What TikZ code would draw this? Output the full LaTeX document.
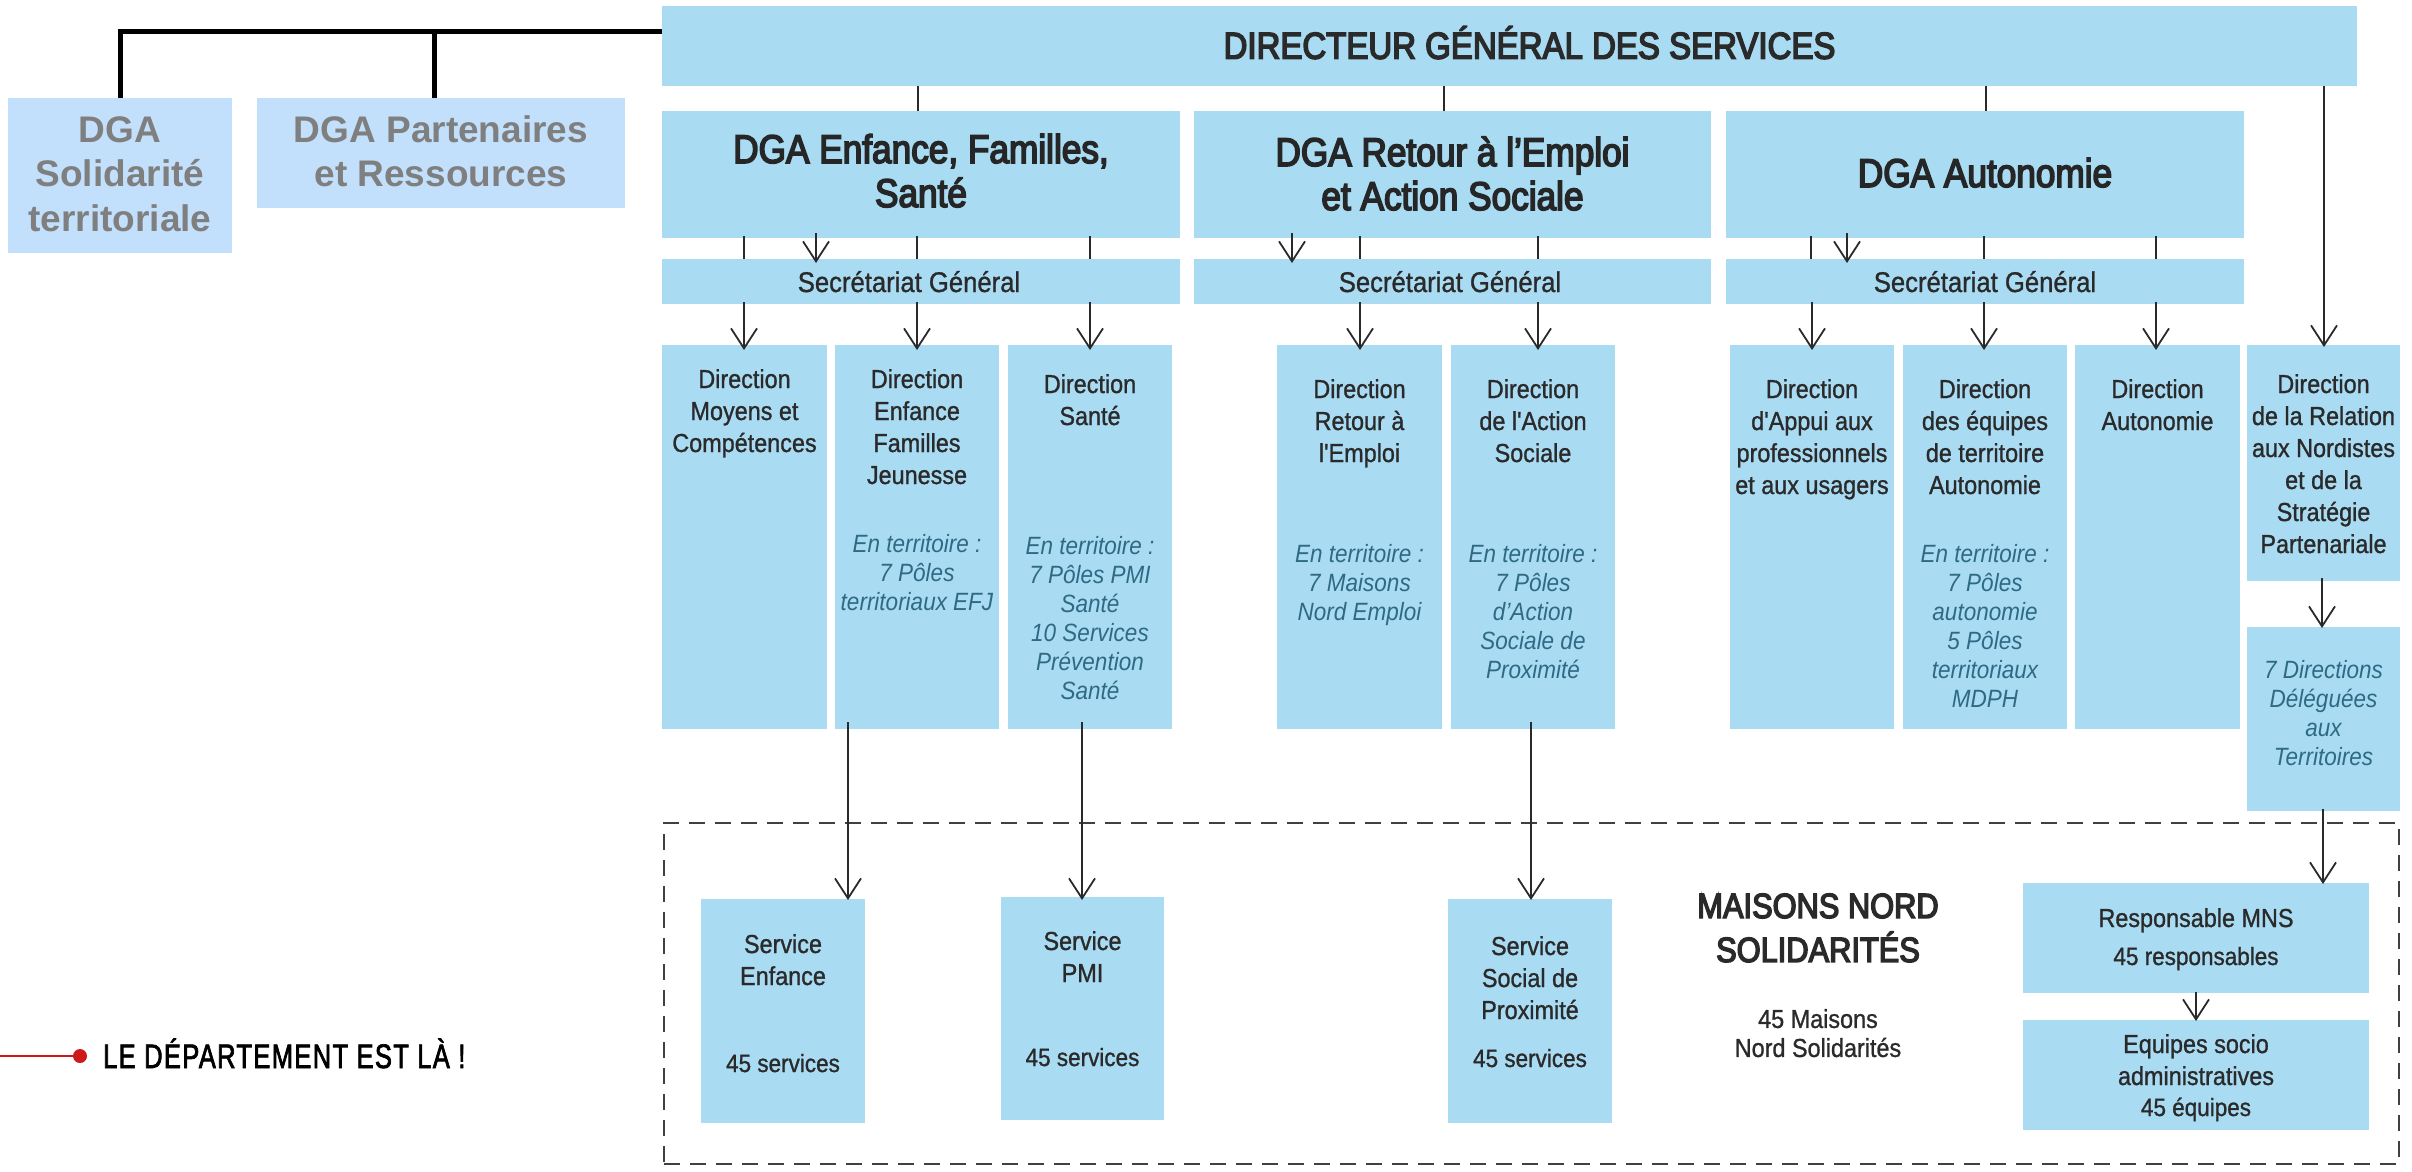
\documentclass[tikz,border=0pt]{standalone}
\usepackage{fontspec}
\usetikzlibrary{arrows.meta,calc}
\setmainfont{Liberation Sans}
\newfontfamily\bodyf{Liberation Sans}[FakeStretch=.9,FakeBold=1]
\newfontfamily\itbodyf{Liberation Sans}[FakeStretch=.9]
\newfontfamily\headf{Liberation Sans}[FakeStretch=.88,FakeBold=4]
\newfontfamily\grayf{Liberation Sans}
\newfontfamily\legf{Liberation Sans}[FakeStretch=.75,LetterSpace=4,FakeBold=2]
\definecolor{boxblue}{HTML}{A9DBF3}
\definecolor{boxlight}{HTML}{C2E0FC}
\definecolor{inkdark}{HTML}{2A2A2A}
\definecolor{inkital}{HTML}{2F6A85}
\definecolor{inkgray}{HTML}{7F7F7F}
\definecolor{legred}{HTML}{CC1A1A}
\newcommand\titlef{\headf\fontsize{37.5}{44}\selectfont\color{inkdark}}
\newcommand\dgaf{\headf\fontsize{40}{44}\selectfont\color{black!85}}
\newcommand\secf{\bodyf\fontsize{28.5}{32}\selectfont\color{inkdark}}
\newcommand\dirf{\bodyf\fontsize{26}{32}\selectfont\color{inkdark}}
\newcommand\itf{\itbodyf\itshape\fontsize{25}{29}\selectfont\color{inkital}}
\newcommand\numf{\bodyf\fontsize{25}{32}\selectfont\color{inkdark}}
\newcommand\grayff{\grayf\bfseries\fontsize{37}{44.5}\selectfont\color{inkgray}}
\newcommand\maisf{\headf\fontsize{35}{42}\selectfont\color{inkdark}}
\newcommand\bx[9][box]{%
  \pgfmathsetlengthmacro\bxw{(#5-#3)*1pt}%
  \pgfmathsetlengthmacro\bxh{(#6-#4)*1pt}%
  \node[#1,minimum width=\bxw,minimum height=\bxh] (#2) at ({(#3+#5)/2},{(#4+#6)/2})
    {\parbox[c][\bxh][t]{\bxw}{\centering #8\vspace*{\dimexpr #7pt-#4pt-0.7\baselineskip\relax}\strut #9\par}};}
\tikzset{
  x=1pt,y=-1pt,
  box/.style={fill=boxblue,draw=none,inner sep=0pt,outer sep=0pt},
  lightbox/.style={fill=boxlight,draw=none,inner sep=0pt,outer sep=0pt},
  plainbox/.style={draw=none,inner sep=0pt,outer sep=0pt},
  framebox/.style={draw=black!75,line width=2.4pt,dash pattern=on 16pt off 10pt,inner sep=0pt,outer sep=0pt},
  link/.style={draw=inkdark,line width=1.7pt},
  linkarrow/.style={link,-{Straight Barb[length=20pt,width=26pt,line width=1.8pt]}},
  heavy/.style={draw=black,line width=5pt}
}
\begin{document}
\begin{tikzpicture}
\useasboundingbox (0,0) rectangle (2412,1171);
% top
\bx{dg}{662}{6}{2357}{86}{57}{\titlef}{\hspace*{40pt}DIRECTEUR GÉNÉRAL DES SERVICES}
\bx[lightbox]{sol}{8}{98}{232}{253}{142}{\grayff}{DGA\\Solidarité\\territoriale}
\bx[lightbox]{part}{257}{98}{625}{208}{142}{\grayff}{DGA Partenaires\\et Ressources}
% DGA
\bx{enf}{662}{111}{1180}{238}{163}{\dgaf}{DGA Enfance, Familles,\\Santé}
\bx{ret}{1194}{111}{1711}{238}{166}{\dgaf}{DGA Retour à l’Emploi\\et Action Sociale}
\bx{aut}{1726}{111}{2244}{238}{187}{\dgaf}{DGA Autonomie}
% secretariats
\bx{sa}{662}{259}{1180}{304}{292}{\secf}{\hspace*{-24pt}Secrétariat Général}
\bx{sb}{1194}{259}{1711}{304}{292}{\secf}{\hspace*{-5pt}Secrétariat Général}
\bx{sc}{1726}{259}{2244}{304}{292}{\secf}{Secrétariat Général}
% directions
\bx{d1}{662}{345}{827}{729}{388}{\dirf}{Direction\\Moyens et\\Compétences}
\bx{d2}{835}{345}{999}{729}{388}{\dirf}{Direction\\Enfance\\Familles\\Jeunesse\par\vspace{39pt}{\itf En territoire :\\7 Pôles\\territoriaux EFJ\par}}
\bx{d3}{1008}{345}{1172}{729}{393}{\dirf}{Direction\\Santé\par\vspace{100pt}{\itf En territoire :\\7 Pôles PMI\\Santé\\10 Services\\Prévention\\Santé\par}}
\bx{d4}{1277}{345}{1442}{729}{398}{\dirf}{Direction\\Retour à\\l'Emploi\par\vspace{71pt}{\itf En territoire :\\7 Maisons\\Nord Emploi\par}}
\bx{d5}{1451}{345}{1615}{729}{398}{\dirf}{Direction\\de l'Action\\Sociale\par\vspace{71pt}{\itf En territoire :\\7 Pôles\\d’Action\\Sociale de\\Proximité\par}}
\bx{d6}{1730}{345}{1894}{729}{398}{\dirf}{Direction\\d'Appui aux\\professionnels\\et aux usagers}
\bx{d7}{1903}{345}{2067}{729}{398}{\dirf}{Direction\\des équipes\\de territoire\\Autonomie\par\vspace{39pt}{\itf En territoire :\\7 Pôles\\autonomie\\5 Pôles\\territoriaux\\MDPH\par}}
\bx{d8}{2075}{345}{2240}{729}{398}{\dirf}{Direction\\Autonomie}
\bx{d9}{2247}{345}{2400}{581}{393}{\dirf}{Direction\\de la Relation\\aux Nordistes\\et de la\\Stratégie\\Partenariale}
\bx{d10}{2247}{627}{2400}{811}{678}{\itf}{7 Directions\\Déléguées\\aux\\Territoires}
% frame
\bx[framebox]{frame}{664}{823}{2399}{1164}{900}{\numf}{}
% services
\bx{s1}{701}{899}{865}{1123}{953}{\dirf}{Service\\Enfance\par\vspace{55pt}{\numf 45 services\par}}
\bx{s2}{1001}{897}{1164}{1120}{950}{\dirf}{Service\\PMI\par\vspace{52pt}{\numf 45 services\par}}
\bx{s3}{1448}{899}{1612}{1123}{955}{\dirf}{Service\\Social de\\Proximité\par\vspace{16pt}{\numf 45 services\par}}
\bx[plainbox]{mns}{1680}{880}{1956}{1075}{918}{\maisf}{MAISONS NORD\\SOLIDARITÉS\par\vspace{37pt}{\bodyf\fontsize{26}{29}\selectfont 45 Maisons\\Nord Solidarités\par}}
\bx{r1}{2023}{883}{2369}{993}{927}{\dirf}{Responsable MNS\par\vspace{6pt}{\numf 45 responsables\par}}
\bx{r2}{2023}{1020}{2369}{1130}{1053}{\dirf}{Equipes socio\\administratives\\[-1pt]{\numf 45 équipes}}
% thick lines
\draw[heavy] (dg.west |- 0,31) -- (120,31) -- (120,0 |- sol.north) ;
\draw[heavy] (434,31) -- (434,0 |- part.north);
% DG to DGAs
\draw[link] (918,0 |- dg.south) -- (918,0 |- enf.north);
\draw[link] (1444,0 |- dg.south) -- (1444,0 |- ret.north);
\draw[link] (1986,0 |- dg.south) -- (1986,0 |- aut.north);
\draw[linkarrow,shorten >=-2pt] (2324,0 |- dg.south) -- (2324,0 |- d9.north);
% DGA to secretariat
\foreach \xx/\aa/\bb in {744/enf/sa,917/enf/sa,1090/enf/sa,1360/ret/sb,1538/ret/sb,1811/aut/sc,1984/aut/sc,2156/aut/sc}
  \draw[link,shorten <=-2pt] (\xx,0 |- \aa.south) -- (\xx,0 |- \bb.north);
\foreach \xx/\aa/\bb in {816/enf/sa,1292/ret/sb,1847/aut/sc}
  \draw[linkarrow,shorten <=-5pt,shorten >=-4pt] (\xx,0 |- \aa.south) -- (\xx,0 |- \bb.north);
% secretariat to directions
\foreach \xx/\aa/\bb in {744/sa/d1,917/sa/d2,1090/sa/d3,1360/sb/d4,1538/sb/d5,1812/sc/d6,1984/sc/d7,2156/sc/d8}
  \draw[linkarrow,shorten <=-2pt,shorten >=-5pt] (\xx,0 |- \aa.south) -- (\xx,0 |- \bb.north);
% directions to services
\draw[linkarrow,shorten <=-7pt,shorten >=-1pt] (848,0 |- d2.south) -- (848,0 |- s1.north);
\draw[linkarrow,shorten <=-7pt,shorten >=-3pt] (1082,0 |- d3.south) -- (1082,0 |- s2.north);
\draw[linkarrow,shorten <=-7pt,shorten >=-1pt] (1531,0 |- d5.south) -- (1531,0 |- s3.north);
\draw[linkarrow,shorten <=-3pt,shorten >=-1pt] (2322,0 |- d9.south) -- (2322,0 |- d10.north);
\draw[linkarrow,shorten <=-2pt,shorten >=-1pt] (2323,0 |- d10.south) -- (2323,0 |- r1.north);
\draw[linkarrow,shorten <=-1pt,shorten >=-1pt] (2196,0 |- r1.south) -- (2196,0 |- r2.north);
% legend
\coordinate (legstart) at (0,1056);
\node[circle,fill=legred,inner sep=0pt,minimum size=14pt] (legdot) at (80,1056) {};
\draw[legred,line width=2.6pt] (legstart) -- (legdot);
\node[anchor=base west,inner sep=0pt,font=\legf\fontsize{34}{34}\selectfont] (legtext) at (103,1068) {LE DÉPARTEMENT EST LÀ !};
\end{tikzpicture}
\end{document}
